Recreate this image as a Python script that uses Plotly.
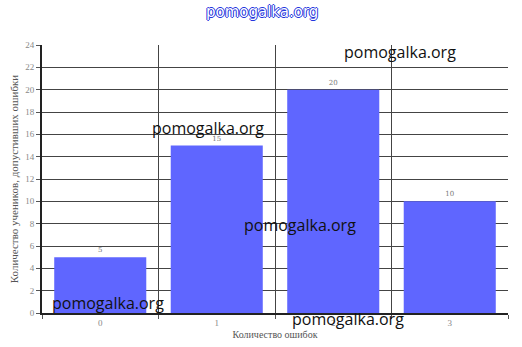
import plotly.graph_objects as go

categories = ["0", "1", "2", "3"]
values = [5, 15, 20, 10]
x_title = "Количество ошибок"
y_title = "Количество учеников, допустивших ошибки"
watermark = "pomogalka.org"

fig = go.Figure()
fig.add_trace(go.Bar(
    x=categories, y=values,
    marker=dict(color="#5F66FF", line=dict(width=0)),
    text=[str(v) for v in values], textposition="outside",
    textfont=dict(size=7, color="#777", family="DejaVu Serif"),
    cliponaxis=False, width=0.79,
))

fig.update_layout(
    width=522, height=347,
    margin=dict(l=42, r=14, t=45, b=34),
    paper_bgcolor="white", plot_bgcolor="white",
    showlegend=False,
    font=dict(family="Liberation Serif", size=9, color="#777"),
)
fig.update_xaxes(
    type="category", tickson="boundaries", automargin=False,
    showgrid=True, gridcolor="#444", gridwidth=1,
    showline=True, linecolor="#222", linewidth=2,
    ticks="outside", ticklen=4, tickcolor="#555",
    tickfont=dict(size=9, color="#888"),
    title=dict(text=x_title, font=dict(size=10, color="#555"), standoff=4),
)
fig.update_yaxes(
    range=[0, 24], dtick=2, automargin=False,
    showgrid=True, gridcolor="#444", gridwidth=1,
    showline=True, linecolor="#222", linewidth=2,
    ticks="outside", ticklen=4, tickcolor="#555",
    tickfont=dict(size=9, color="#888"),
    title=dict(text=y_title, font=dict(size=11, color="#555"), standoff=4),
    zeroline=False,
)

wm_font = dict(family="Open Sans", size=16, color="#111")
for (x, y) in [(400, 52), (208, 128), (300, 225), (108, 303), (348, 319)]:
    fig.add_annotation(text=watermark, xref="paper", yref="paper",
                       x=(x - 42) / 466, y=1 - (y - 45) / 268,
                       showarrow=False, font=wm_font,
                       xanchor="center", yanchor="middle")

fig.add_annotation(text=watermark, xref="paper", yref="paper",
                   x=(262 - 42) / 466, y=1 - (12 - 45) / 268,
                   showarrow=False, xanchor="center", yanchor="middle",
                   font=dict(family="DejaVu Sans", size=15, color="white",
                             shadow="1px 0 0 #2233dd, -1px 0 0 #2233dd, 0 1px 0 #2233dd, 0 -1px 0 #2233dd"))

fig.write_html("out.html")
